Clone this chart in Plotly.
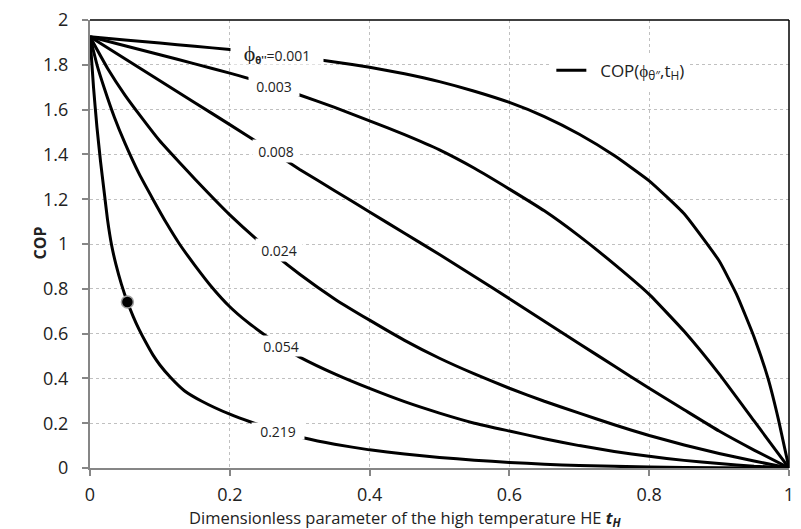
import plotly.graph_objects as go

# ---- data ----
phi_labels = ["0.001", "0.003", "0.008", "0.024", "0.054", "0.219"]

t_001 = [0, 0.05, 0.1, 0.15, 0.2, 0.25, 0.3, 0.35, 0.4, 0.45, 0.5, 0.55, 0.6, 0.65, 0.7, 0.75, 0.8, 0.85, 0.9, 0.925, 0.95, 0.97, 0.985, 1.0]
c_001 = [1.925, 1.911, 1.897, 1.883, 1.868, 1.852, 1.834, 1.813, 1.789, 1.760, 1.725, 1.682, 1.632, 1.569, 1.49, 1.395, 1.282, 1.135, 0.925, 0.775, 0.585, 0.40, 0.215, 0]

t_003 = [0, 0.05, 0.1, 0.15, 0.2, 0.25, 0.3, 0.35, 0.4, 0.45, 0.5, 0.55, 0.6, 0.65, 0.7, 0.75, 0.8, 0.85, 0.9, 0.95, 1.0]
c_003 = [1.925, 1.885, 1.845, 1.804, 1.763, 1.718, 1.665, 1.61, 1.55, 1.488, 1.42, 1.338, 1.245, 1.148, 1.035, 0.91, 0.775, 0.61, 0.42, 0.21, 0]

t_008 = [0, 0.05, 0.1, 0.15, 0.2, 0.25, 0.3, 0.35, 0.4, 0.45, 0.5, 0.55, 0.6, 0.65, 0.7, 0.75, 0.8, 0.85, 0.9, 0.95, 1.0]
c_008 = [1.925, 1.827, 1.729, 1.631, 1.533, 1.434, 1.333, 1.238, 1.143, 1.048, 0.953, 0.855, 0.756, 0.655, 0.555, 0.455, 0.356, 0.26, 0.165, 0.08, 0]

t_024 = [0, 0.025, 0.05, 0.075, 0.1, 0.128, 0.15, 0.2, 0.25, 0.3, 0.35, 0.4, 0.45, 0.5, 0.55, 0.6, 0.65, 0.7, 0.75, 0.8, 0.85, 0.9, 0.95, 1.0]
c_024 = [1.925, 1.785, 1.665, 1.56, 1.46, 1.364, 1.29, 1.13, 0.99, 0.865, 0.755, 0.66, 0.57, 0.49, 0.42, 0.356, 0.298, 0.245, 0.193, 0.145, 0.103, 0.065, 0.031, 0]

t_054 = [0, 0.01, 0.02, 0.035, 0.05, 0.07, 0.09, 0.11, 0.128, 0.15, 0.175, 0.2, 0.225, 0.25, 0.275, 0.3, 0.35, 0.4, 0.45, 0.5, 0.55, 0.6, 0.65, 0.7, 0.75, 0.8, 0.85, 0.9, 0.95, 1.0]
c_054 = [1.925, 1.80, 1.70, 1.565, 1.45, 1.315, 1.2, 1.09, 1.0, 0.905, 0.805, 0.72, 0.652, 0.594, 0.54, 0.495, 0.42, 0.355, 0.296, 0.245, 0.2, 0.165, 0.131, 0.1, 0.074, 0.052, 0.034, 0.02, 0.008, 0]

t_219 = [0, 0.005, 0.01, 0.015, 0.02, 0.025, 0.031, 0.037, 0.045, 0.0535, 0.062, 0.07, 0.08, 0.09, 0.1, 0.115, 0.135, 0.16, 0.2, 0.232, 0.27, 0.305, 0.35, 0.4, 0.45, 0.5, 0.55, 0.6, 0.65, 0.7, 0.8, 0.9, 1.0]
c_219 = [1.925, 1.70, 1.52, 1.37, 1.24, 1.11, 0.993, 0.91, 0.82, 0.741, 0.675, 0.62, 0.56, 0.505, 0.46, 0.405, 0.345, 0.298, 0.24, 0.203, 0.165, 0.135, 0.106, 0.081, 0.062, 0.047, 0.035, 0.025, 0.017, 0.011, 0.004, 0.001, 0]

series_t = [t_001, t_003, t_008, t_024, t_054, t_219]
series_c = [c_001, c_003, c_008, c_024, c_054, c_219]

# label anchor positions (data coords) along each curve
label_t = [0.267, 0.263, 0.266, 0.27, 0.273, 0.269]
label_c = [1.855, 1.705, 1.415, 0.975, 0.543, 0.165]
label_w = [92, 50, 46, 46, 50, 52]
label_h = [24, 20, 22, 22, 20, 16]

point_t = [0.0535]
point_c = [0.741]

x_ticks = [0, 0.2, 0.4, 0.6, 0.8, 1]
y_ticks = [0, 0.2, 0.4, 0.6, 0.8, 1, 1.2, 1.4, 1.6, 1.8, 2]

FONT = "Open Sans"
TXT = "#222"

fig = go.Figure()
for i, (t, c) in enumerate(zip(series_t, series_c)):
    fig.add_trace(go.Scatter(
        x=t, y=c, mode="lines",
        line=dict(color="black", width=3, shape="spline", smoothing=0.4),
        name="\u00a0\u00a0COP(ϕ<sub>θ″</sub>,t<sub>H</sub>)",
        showlegend=(i == 0), hoverinfo="skip",
    ))

fig.add_trace(go.Scatter(
    x=point_t, y=point_c, mode="markers",
    marker=dict(size=12, color="black", line=dict(color="#a0a0a0", width=1.5)),
    showlegend=False,
))

for i, lab in enumerate(phi_labels):
    if i == 0:
        txt = "<span style='font-size:22px'>ϕ</span><sub><b>θ''</b></sub>=" + lab
    else:
        txt = lab
    fig.add_annotation(
        x=label_t[i], y=label_c[i], xref="x", yref="y", text=txt,
        showarrow=False, bgcolor="white", width=label_w[i], height=label_h[i],
        font=dict(family=FONT, size=14, color=TXT), borderpad=0,
    )

# axis titles as annotations (positioned like the reference)
fig.add_annotation(
    x=0.452, y=-0.112, xref="paper", yref="paper", xanchor="center", yanchor="middle",
    text="Dimensionless parameter of the high temperature HE <b><i>t<sub>H</sub></i></b>",
    showarrow=False, font=dict(family=FONT, size=16.5, color=TXT),
)
fig.add_annotation(
    x=-0.071, y=0.502, xref="paper", yref="paper", xanchor="center", yanchor="middle",
    text="<b>COP</b>", textangle=-90, showarrow=False,
    font=dict(family=FONT, size=16, color=TXT),
)

# top and right frame lines
fig.add_shape(type="line", xref="paper", yref="paper", x0=0, x1=1, y0=1, y1=1,
              line=dict(color="black", width=1.5))
fig.add_shape(type="line", xref="paper", yref="paper", x0=1, x1=1, y0=0, y1=1,
              line=dict(color="black", width=1.5))

fig.update_layout(
    width=801, height=529,
    margin=dict(l=90, r=7, t=19, b=61),
    paper_bgcolor="white", plot_bgcolor="white",
    font=dict(family=FONT, color=TXT),
    showlegend=True,
    legend=dict(x=0.66, y=0.927, xanchor="left", yanchor="top",
                bgcolor="white", font=dict(family=FONT, size=17, color=TXT),
                itemwidth=30, entrywidth=190),
)
fig.update_xaxes(
    range=[0, 1], tickvals=x_ticks, ticktext=[f"{v:g}" for v in x_ticks],
    showline=True, linecolor="#868686", linewidth=2,
    ticks="outside", ticklen=6, tickcolor="#868686", tickwidth=1.5,
    showgrid=True, gridcolor="#c0c0c0", griddash="dot", gridwidth=1,
    zeroline=False, tickfont=dict(size=18, family=FONT, color=TXT),
    ticklabelstandoff=3,
)
fig.update_yaxes(
    range=[0, 2], tickvals=y_ticks, ticktext=[f"{v:g}" for v in y_ticks],
    showline=True, linecolor="#868686", linewidth=2,
    ticks="outside", ticklen=6, tickcolor="#868686", tickwidth=1.5,
    showgrid=True, gridcolor="#c0c0c0", griddash="dot", gridwidth=1,
    zeroline=False, tickfont=dict(size=18, family=FONT, color=TXT),
    ticklabelstandoff=10,
)

fig.write_html("out.html")
